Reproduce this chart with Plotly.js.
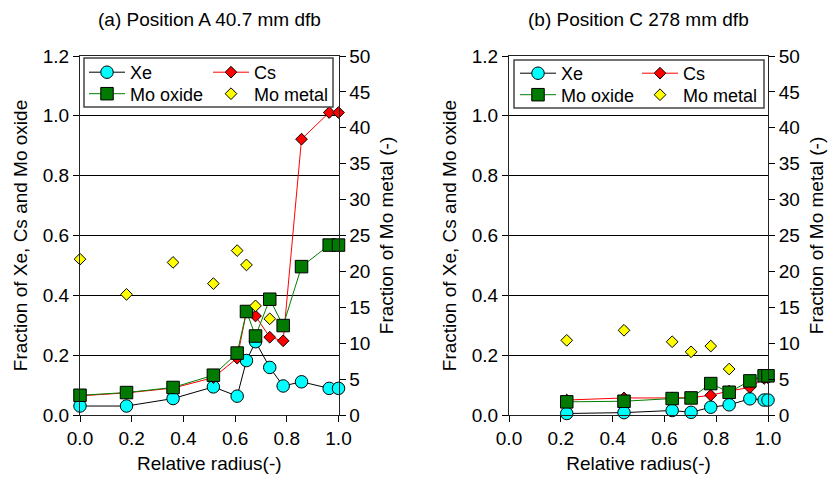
<!DOCTYPE html>
<html>
<head>
<meta charset="utf-8">
<script src="https://cdn.plot.ly/plotly-3.0.1.min.js"></script>
<style>html,body{margin:0;padding:0;background:#fff;}#chart{width:834px;height:478px;}</style>
</head>
<body>
<div id="chart"></div>
<script>
// Panel (a) Position A 40.7 mm dfb
const aRadius = [0, 0.18, 0.36, 0.516, 0.608, 0.644, 0.679, 0.734, 0.786, 0.857, 0.964, 1.0];
const aXe = [0.03, 0.03, 0.055, 0.094, 0.063, 0.182, 0.245, 0.159, 0.097, 0.111, 0.089, 0.089];
const aCs = [0.064, 0.074, 0.09, 0.125, 0.19, 0.345, 0.331, 0.26, 0.248, 0.922, 1.011, 1.011];
const aMoOxide = [0.066, 0.075, 0.092, 0.133, 0.207, 0.346, 0.264, 0.387, 0.299, 0.496, 0.568, 0.568];
const aRadiusMetal = [0, 0.18, 0.36, 0.516, 0.608, 0.644, 0.679, 0.734];
const aMoMetal = [21.7, 16.8, 21.25, 18.3, 22.9, 20.9, 15.2, 13.4];

// Panel (b) Position C 278 mm dfb
const bRadius = [0.223, 0.444, 0.63, 0.703, 0.779, 0.85, 0.93, 0.985, 1.0];
const bXe = [0.005, 0.008, 0.015, 0.009, 0.026, 0.034, 0.054, 0.05, 0.05];
const bCs = [0.05, 0.057, 0.057, 0.058, 0.066, 0.08, 0.092, 0.122, 0.124];
const bMoOxide = [0.044, 0.046, 0.055, 0.057, 0.105, 0.076, 0.114, 0.131, 0.131];
const bRadiusMetal = [0.223, 0.444, 0.63, 0.703, 0.779, 0.85];
const bMoMetal = [10.4, 11.8, 10.2, 8.8, 9.6, 6.4];

const titles = ['(a) Position A 40.7 mm dfb', '(b) Position C 278 mm dfb'];
const xTitle = 'Relative radius(-)';
const yLeftTitle = 'Fraction of Xe, Cs and Mo oxide';
const yRightTitle = 'Fraction of Mo metal (-)';

const FONT = 'Arial, "Liberation Sans", Helvetica, sans-serif';
const FS = 19;

function series(xa, ya, x, y, name, legend, style) {
  return Object.assign({
    type: 'scatter', x: x, y: y, name: name, xaxis: xa, yaxis: ya,
    legend: legend, cliponaxis: false, hoverinfo: 'x+y'
  }, style);
}
const styleXe = {mode: 'lines+markers', line: {color: '#000000', width: 1},
  marker: {symbol: 'circle', size: 12.5, color: '#00FFFF', line: {color: '#000', width: 1}}};
const styleCs = {mode: 'lines+markers', line: {color: '#FF0000', width: 1},
  marker: {symbol: 'diamond', size: 9, color: '#FF0000', line: {color: '#000', width: 1}}};
const styleOx = {mode: 'lines+markers', line: {color: '#008000', width: 1},
  marker: {symbol: 'square', size: 12.5, color: '#007A00', line: {color: '#000', width: 1}}};
const styleMet = {mode: 'markers',
  marker: {symbol: 'diamond', size: 9, color: '#FFFF00', line: {color: '#000', width: 1}}};

const data = [
  series('x', 'y', aRadius, aXe, 'Xe', 'legend', styleXe),
  series('x', 'y', aRadius, aCs, 'Cs', 'legend', styleCs),
  series('x', 'y', aRadius, aMoOxide, 'Mo oxide', 'legend2', styleOx),
  series('x', 'y2', aRadiusMetal, aMoMetal, 'Mo metal', 'legend2', styleMet),
  series('x2', 'y3', bRadius, bXe, 'Xe', 'legend3', styleXe),
  series('x2', 'y3', bRadius, bCs, 'Cs', 'legend3', styleCs),
  series('x2', 'y3', bRadius, bMoOxide, 'Mo oxide', 'legend4', styleOx),
  series('x2', 'y4', bRadiusMetal, bMoMetal, 'Mo metal', 'legend4', styleMet)
];

const tickFont = {family: FONT, size: FS, color: '#000'};
const titleFont = {family: FONT, size: FS, color: '#000'};

function xAxis(domain, anchor) {
  return {domain: domain, anchor: anchor, range: [0, 1], dtick: 0.2, tick0: 0, tickformat: '.1f',
    ticks: 'outside', ticklen: 6, tickwidth: 1, tickcolor: '#000',
    showline: true, linecolor: '#222', linewidth: 1, mirror: true,
    showgrid: false, zeroline: false, tickfont: tickFont,
    title: {text: xTitle, font: titleFont, standoff: 8}, automargin: false, fixedrange: true};
}
function yLeft(anchor) {
  return {anchor: anchor, domain: [0, 1], range: [0, 1.2], dtick: 0.2, tick0: 0, tickformat: '.1f',
    ticks: 'outside', ticklen: 6, tickwidth: 1, tickcolor: '#000',
    showline: true, linecolor: '#222', linewidth: 1,
    showgrid: true, gridcolor: '#000', gridwidth: 1, zeroline: false, tickfont: tickFont,
    title: {text: yLeftTitle, font: titleFont, standoff: 10}, automargin: false, fixedrange: true};
}
function yRight(anchor, overlay) {
  return {anchor: anchor, overlaying: overlay, side: 'right', range: [0, 50], dtick: 5, tick0: 0,
    ticks: 'outside', ticklen: 6, tickwidth: 1, tickcolor: '#000',
    showline: true, linecolor: '#222', linewidth: 1,
    showgrid: false, zeroline: false, tickfont: tickFont,
    title: {text: yRightTitle, font: titleFont, standoff: 10}, automargin: false, fixedrange: true};
}

const L = 80, R = 66, T = 56, B = 63;
const W = 834 - L - R, H = 478 - T - B;
const px2x = p => (p - L) / W;
const py2y = p => 1 - (p - T) / H;

function legendAt(xp, yp, ew) {
  return {x: px2x(xp), y: py2y(yp), xanchor: 'left', yanchor: 'middle', orientation: 'h',
    bgcolor: 'rgba(0,0,0,0)', borderwidth: 0, font: {family: FONT, size: 18, color: '#000'},
    itemwidth: 36, entrywidth: ew, entrywidthmode: 'pixels', itemclick: false, itemdoubleclick: false};
}

const layout = {
  width: 834, height: 478,
  margin: {l: L, r: R, t: T, b: B, pad: 0},
  paper_bgcolor: '#fff', plot_bgcolor: '#fff',
  font: {family: FONT, size: FS, color: '#000'},
  xaxis: xAxis([0, px2x(338.5)], 'y'),
  yaxis: yLeft('x'),
  yaxis2: yRight('x', 'y'),
  xaxis2: xAxis([px2x(509), 1], 'y3'),
  yaxis3: yLeft('x2'),
  yaxis4: yRight('x2', 'y3'),
  legend: legendAt(84, 72.5, 73),
  legend2: legendAt(84, 94, 73),
  legend3: legendAt(515, 73.5, 71),
  legend4: legendAt(515, 95, 71),
  showlegend: true,
  shapes: [
    {type: 'rect', xref: 'paper', yref: 'paper', x0: px2x(84), x1: px2x(333), y0: py2y(58), y1: py2y(107),
     line: {color: '#444', width: 1.5}, fillcolor: '#fff', layer: 'above'},
    {type: 'rect', xref: 'paper', yref: 'paper', x0: px2x(514), x1: px2x(764), y0: py2y(60), y1: py2y(108),
     line: {color: '#444', width: 1.5}, fillcolor: '#fff', layer: 'above'}
  ],
  annotations: [
    {text: titles[0], xref: 'x domain', yref: 'paper', x: 0.5, y: py2y(20), xanchor: 'center', yanchor: 'middle',
     showarrow: false, font: {family: FONT, size: FS, color: '#000'}},
    {text: titles[1], xref: 'x2 domain', yref: 'paper', x: 0.5, y: py2y(20), xanchor: 'center', yanchor: 'middle',
     showarrow: false, font: {family: FONT, size: FS, color: '#000'}}
  ]
};

Plotly.newPlot('chart', data, layout, {displayModeBar: false, responsive: false});
</script>
</body>
</html>
